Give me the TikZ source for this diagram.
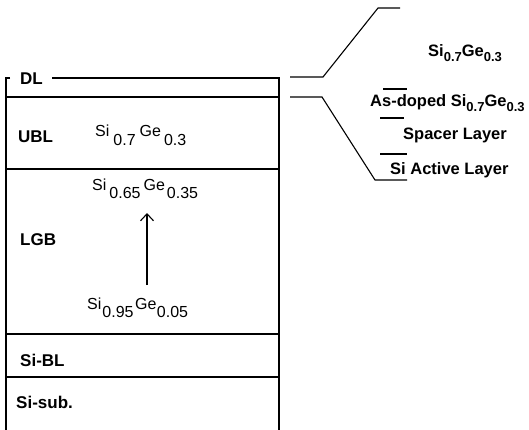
\documentclass[tikz,border=0pt]{standalone}
\usepackage{fontspec}
\setmainfont{Liberation Sans}
\usetikzlibrary{arrows.meta}
\newcommand{\lowsub}[2][8.5pt]{\raisebox{-#1}{#2}}
\newcommand{\bsub}[1]{\raisebox{-4.5pt}{\fontsize{13}{13}\selectfont #1}}
\tikzset{
  layerline/.style={line width=1.3pt},
  thinline/.style={line width=1.1pt},
  lab/.style={anchor=base west, inner sep=0pt, font=\fontsize{17}{17}\selectfont\bfseries},
  formula/.style={anchor=base west, inner sep=0pt, font=\fontsize{16}{16}\selectfont},
  rlab/.style={anchor=base west, inner sep=0pt, font=\fontsize{16.5}{16.5}\selectfont\bfseries},
}
\begin{document}
\begin{tikzpicture}[x=1pt,y=-1pt]
\useasboundingbox (0,0) rectangle (529,430);
% box corners and layer boundaries
\coordinate (boxTL) at (6,78);
\coordinate (boxTLtick) at (10,78);
\coordinate (dlStart) at (52,78);
\coordinate (boxTR) at (279,78);
\coordinate (boxBL) at (6,430);
\coordinate (boxBR) at (279,430);
\foreach \n/\y in {1/97,2/169,3/334,4/377}{
  \coordinate (layer\n W) at (6,\y);
  \coordinate (layer\n E) at (279,\y);
}
\draw[layerline] (boxTLtick) -- (boxTL) -- (boxBL);
\draw[layerline] (dlStart) -- (boxTR) -- (boxBR);
\foreach \n in {1,2,3,4}{\draw[layerline] (layer\n W) -- (layer\n E);}
% left labels
\node[lab] (dl) at (20,85) {DL};
\node[lab] (ubl) at (18,143) {UBL};
\node[lab] (lgb) at (20,245) {LGB};
\node[lab] (sibl) at (20,366) {Si-BL};
\node[lab] (sisub) at (16,408) {Si-sub.};
% formulas
\node[formula] (f1) at (95,137) {Si\kern4pt\lowsub{0.7}\kern4pt Ge\kern3pt\lowsub{0.3}};
\node[formula] (f2) at (92,191) {Si\kern3pt\lowsub[8pt]{0.65}\kern3pt Ge\kern2pt\lowsub[8pt]{0.35}};
\node[formula] (f3) at (87,309) {Si\kern1pt\lowsub[8pt]{0.95}\kern1.5pt Ge\kern0.5pt\lowsub[8pt]{0.05}};
\coordinate (arS) at (147,285);
\coordinate (arE) at (147,213);
\draw[thinline,-{Straight Barb[length=7pt,width=13pt,line width=1.1pt]}] (arS) -- (arE);
% right side zoom-out lines
\coordinate (u1) at (290,77);
\coordinate (u2) at (323,77);
\coordinate (u3) at (378,8);
\coordinate (u4) at (400,8);
\coordinate (l1) at (290,97);
\coordinate (l2) at (322,97);
\coordinate (l3) at (375,180);
\coordinate (l4) at (407,180);
\draw[thinline] (u1) -- (u2) -- (u3) -- (u4);
\draw[thinline] (l1) -- (l2) -- (l3) -- (l4);
\coordinate (s1a) at (383,89); \coordinate (s1b) at (407,89);
\coordinate (s2a) at (380,118); \coordinate (s2b) at (404,118);
\coordinate (s3a) at (380,154); \coordinate (s3b) at (407,154);
\draw[thinline] (s1a) -- (s1b);
\draw[thinline] (s2a) -- (s2b);
\draw[thinline] (s3a) -- (s3b);
% right labels
\node[rlab] (r1) at (428,57) {Si\bsub{0.7}Ge\bsub{0.3}};
\node[rlab] (r2) at (370,107) {As-doped Si\bsub{0.7}Ge\bsub{0.3}};
\node[rlab] (r3) at (403,140) {Spacer Layer};
\node[rlab] (r4) at (390,175) {Si Active Layer};
\end{tikzpicture}
\end{document}
